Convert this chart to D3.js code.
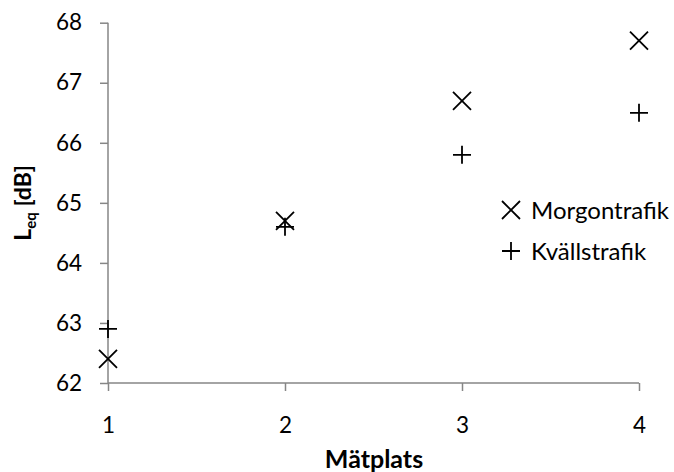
<!DOCTYPE html>
<html>
<head>
<meta charset="utf-8">
<script src="https://cdn.jsdelivr.net/npm/d3@7"></script>
<style>
  html, body { margin: 0; padding: 0; background: #fff; }
  svg { display: block; }
  text { font-family: Lato, "Open Sans", sans-serif; fill: #000; }
</style>
</head>
<body>
<svg id="chart" width="674" height="472"></svg>
<script>
// Measurement sites and equivalent sound levels (dB)
const sites = [1, 2, 3, 4];
const morning = [62.4, 64.7, 66.7, 67.7];   // Morgontrafik
const evening = [62.9, 64.6, 65.8, 66.5];   // Kvällstrafik
const xTicks = [1, 2, 3, 4];
const yTicks = [62, 63, 64, 65, 66, 67, 68];
const seriesNames = ["Morgontrafik", "Kvällstrafik"];

const svg = d3.select("#chart");
const axisColor = "#868686";
const tickFont = 22.5;

const x = d3.scaleLinear().domain([1, 4]).range([108, 639]);
const y = d3.scaleLinear().domain([62, 68]).range([383, 22.7]);

// Y axis
const yAxis = svg.append("g")
  .attr("transform", `translate(${x(1)},0)`)
  .call(d3.axisLeft(y).tickValues(yTicks).tickSize(8).tickPadding(18).tickFormat(d3.format("d")));
// X axis
const xAxis = svg.append("g")
  .attr("transform", `translate(0,${y(62)})`)
  .call(d3.axisBottom(x).tickValues(xTicks).tickSize(8).tickPadding(26).tickFormat(d3.format("d")));

[yAxis, xAxis].forEach(g => {
  g.select(".domain").attr("stroke", axisColor).attr("stroke-width", 1.5);
  g.selectAll(".tick line").attr("stroke", axisColor).attr("stroke-width", 1.5);
  g.selectAll(".tick text")
    .attr("fill", "#000")
    .style("font-family", "Lato, 'Open Sans', sans-serif")
    .style("font-size", tickFont + "px");
});
// Plain axis lines without the outer-tick hooks
yAxis.select(".domain").attr("d", `M0,${y(68)}V${y(62)}`);
xAxis.select(".domain").attr("d", `M${x(1)},0H${x(4)}`);

// Marker shapes
const half = 9;
function drawCross(g, cx, cy) {
  g.append("path")
    .attr("d", `M${cx - half},${cy - half}L${cx + half},${cy + half}M${cx - half},${cy + half}L${cx + half},${cy - half}`)
    .attr("stroke", "#000").attr("stroke-width", 1.8).attr("fill", "none");
}
function drawPlus(g, cx, cy) {
  g.append("path")
    .attr("d", `M${cx - half},${cy}H${cx + half}M${cx},${cy - half}V${cy + half}`)
    .attr("stroke", "#000").attr("stroke-width", 1.8).attr("fill", "none");
}

const marks = svg.append("g");
sites.forEach((s, i) => drawCross(marks, x(s), y(morning[i])));
sites.forEach((s, i) => drawPlus(marks, x(s), y(evening[i])));

// Legend
const legend = svg.append("g");
const legendRows = [
  { name: seriesNames[0], draw: drawCross, cy: 210 },
  { name: seriesNames[1], draw: drawPlus, cy: 251 }
];
legendRows.forEach(r => {
  r.draw(legend, 511, r.cy);
  legend.append("text")
    .attr("x", 531)
    .attr("y", r.cy)
    .attr("dy", "0.36em")
    .style("font-size", "24px")
    .text(r.name);
});

// Axis titles
svg.append("text")
  .attr("x", 374)
  .attr("y", 468)
  .attr("text-anchor", "middle")
  .style("font-size", "25px")
  .style("font-weight", "bold")
  .text("Mätplats");

const yTitle = svg.append("text")
  .attr("transform", `translate(31,${(y(62) + y(68)) / 2}) rotate(-90)`)
  .attr("text-anchor", "middle")
  .style("font-size", "23px")
  .style("font-weight", "bold");
yTitle.append("tspan").text("L");
yTitle.append("tspan").attr("dy", 5).style("font-size", "15px").text("eq");
yTitle.append("tspan").attr("dy", -5).text(" [dB]");
</script>
</body>
</html>
